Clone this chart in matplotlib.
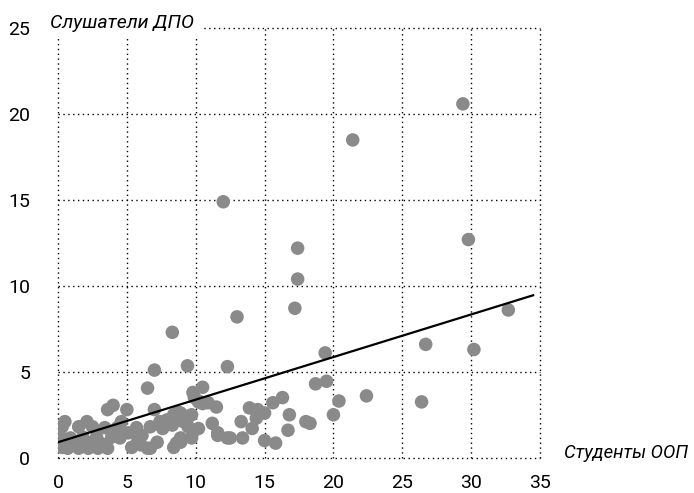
import numpy as np
import matplotlib
matplotlib.use('agg')
import matplotlib.pyplot as plt

# students (x) vs listeners (y)
students = [29.4, 21.4, 12.0, 17.4, 17.4, 29.8, 17.2, 13.0, 8.3, 32.7, 26.7, 30.2, 19.4,
            7.0, 9.4, 12.3,
            18.7, 19.5, 22.4, 26.4, 20.4, 20.0, 18.0, 18.3, 16.8, 16.7, 15.6, 16.3,
            15.0, 15.8, 13.9, 14.5, 15.0, 14.4, 13.3, 14.1, 13.4, 12.5,
            6.5, 10.5, 9.8, 10.9, 11.5, 7.0, 11.2, 11.6, 12.3, 8.4, 8.9, 7.2, 6.5, 10.2,
            0.3, 0.5, 0.2, 0.3, 0.7, 1.5, 2.1, 1.8, 1.5, 2.2, 2.9, 2.5, 2.8, 0.9,
            3.6, 4.0, 3.4, 3.9, 3.6, 4.3, 4.5, 5.0, 4.6, 5.1, 5.35, 5.7, 6.1, 6.0,
            6.7, 6.7, 7.4, 7.9, 8.4, 8.7, 8.6, 8.9, 8.3, 9.4, 9.45, 9.7, 9.9, 9.8,
            10.2, 10.5, 11.6, 8.9, 9.4, 8.4, 10.2, 9.7, 9.1, 1.2, 2.5, 3.2, 5.8, 7.6]
listeners = [20.6, 18.5, 14.9, 12.2, 10.4, 12.7, 8.7, 8.2, 7.3, 8.6, 6.6, 6.3, 6.1,
             5.1, 5.35, 5.3,
             4.3, 4.45, 3.6, 3.25, 3.3, 2.5, 2.1, 2.0, 2.5, 1.6, 3.2, 3.5,
             1.0, 0.85, 2.9, 2.8, 2.6, 2.3, 2.1, 1.7, 1.15, 1.15,
             4.05, 4.1, 3.8, 3.2, 2.95, 2.8, 2.0, 1.45, 1.15, 0.6, 0.9, 0.9, 0.55, 3.25,
             1.8, 2.1, 1.2, 0.6, 0.55, 1.8, 2.1, 1.2, 0.55, 0.55, 0.55, 1.8, 1.2, 1.15,
             2.8, 3.05, 1.75, 1.2, 0.55, 1.75, 1.15, 2.8, 2.1, 1.45, 0.6, 1.75, 1.3, 0.75,
             1.8, 0.55, 2.1, 2.2, 2.5, 2.65, 0.85, 1.15, 1.9, 2.3, 1.8, 2.5, 3.5, 1.5,
             3.3, 3.15, 1.3, 2.6, 2.4, 2.4, 1.7, 1.15, 2.1, 0.9, 0.9, 0.8, 1.0, 1.7]

# trend line
trend_intercept = 0.9
trend_slope = 0.248
trend_x = [0, 34.5]

xticks = [0, 5, 10, 15, 20, 25, 30, 35]
yticks = [0, 5, 10, 15, 20, 25]

plt.rcParams['font.family'] = ['Roboto', 'DejaVu Sans']

fig = plt.figure(figsize=(6.94, 4.93), dpi=100)
ax = fig.add_axes([0.0836, 0.0716, 0.6945, 0.871])

ax.scatter(students, listeners, s=95, color='#8a8a8a', edgecolors='none', zorder=3)
ax.plot(trend_x, [trend_intercept + trend_slope * v for v in trend_x],
        color='black', lw=1.6, zorder=4)

ax.set_xlim(0, 35)
ax.set_ylim(0, 25)
ax.set_xticks(xticks)
ax.set_yticks(yticks)
ax.tick_params(length=0, labelsize=14)
ax.tick_params(axis='y', pad=20)
ax.tick_params(axis='x', pad=12)
for s in ax.spines.values():
    s.set_visible(False)
ax.grid(True, linestyle=(0, (1, 2.5)), color='black', linewidth=1.0)
for gl in ax.get_xgridlines() + ax.get_ygridlines():
    gl.set_clip_on(False)

ax.text(-0.017, 1.012, 'Слушатели ДПО', transform=ax.transAxes, fontsize=14,
        style='italic', ha='left', va='center', zorder=10,
        bbox=dict(facecolor='white', edgecolor='none', pad=5), clip_on=False)
ax.text(1.05, 0.01, 'Студенты ООП', transform=ax.transAxes, fontsize=13.3,
        style='italic', ha='left', va='center', clip_on=False)

plt.savefig('out.png', dpi=100)
plt.close()
